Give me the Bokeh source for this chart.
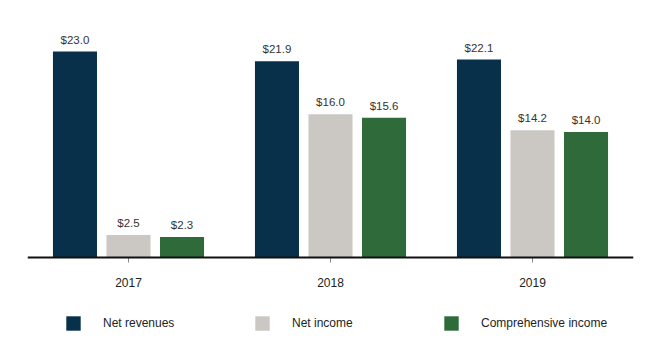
from bokeh.plotting import figure
from bokeh.models import FactorRange, ColumnDataSource, Legend, LegendItem, Span
from bokeh.transform import dodge
from bokeh.core.properties import value
from bokeh.embed import file_html
from bokeh.resources import INLINE

years = ["2017", "2018", "2019"]
net_revenues = [23.0, 21.9, 22.1]
net_income = [2.5, 16.0, 14.2]
comprehensive_income = [2.3, 15.6, 14.0]
series_names = ["Net revenues", "Net income", "Comprehensive income"]
colors = ["#08304b", "#cbc8c3", "#2f6a3a"]

PX_PER_UNIT = 206 / 23.0  # vertical scale of the frame
FONT = value("Liberation Sans")

p = figure(x_range=FactorRange(factors=years, range_padding=0),
           y_range=(-95 / PX_PER_UNIT, 247 / PX_PER_UNIT),
           width=660, height=352, output_backend="svg", toolbar_location=None,
           min_border_left=27, min_border_right=27, min_border_top=10, min_border_bottom=0)
p.outline_line_color = None
p.grid.grid_line_color = None
p.xaxis.visible = False
p.yaxis.visible = False

offsets = [-0.265, 0.0, 0.265]
items = []
for name, vals, col, off in zip(series_names, [net_revenues, net_income, comprehensive_income], colors, offsets):
    src = ColumnDataSource(dict(x=years, top=vals, label=["$%.1f" % v for v in vals]))
    r = p.vbar(x=dodge("x", off, range=p.x_range), top="top", width=0.218, source=src,
               fill_color=col, line_color=None)
    p.text(x=dodge("x", off, range=p.x_range), y="top", text="label", source=src,
           text_align="center", text_baseline="bottom", y_offset=-6,
           text_font_size="11.5px", text_color="#333333", text_font=FONT)
    items.append(LegendItem(label=name, renderers=[r]))

# category axis: baseline, ticks and labels
p.add_layout(Span(location=0, dimension="width", line_color="#111111", line_width=2))
p.segment(x0=years, y0=[0] * 3, x1=years, y1=[-5 / PX_PER_UNIT] * 3,
          line_color="#888888", line_width=1)
p.text(x=years, y=[0] * 3, text=years, y_offset=25, text_align="center",
       text_baseline="middle", text_font=FONT, text_font_size="12px", text_color="#222222")

legend = Legend(items=items, orientation="horizontal", location=(37, 20),
                glyph_width=18, glyph_height=18, label_standoff=21, label_width=150,
                label_height=18, spacing=0, padding=0, margin=0, border_line_color=None,
                label_text_font="Liberation Sans", label_text_font_size="12px",
                label_text_color="#222222", background_fill_alpha=0)
p.add_layout(legend, "center")

open("out.html", "w").write(file_html(p, INLINE))
